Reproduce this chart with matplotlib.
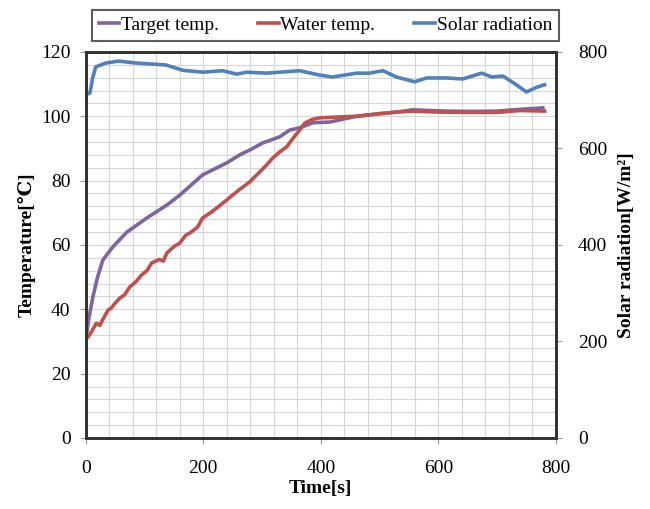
import matplotlib.pyplot as plt
import numpy as np

plt.rcParams['font.family'] = ['Liberation Serif', 'DejaVu Serif']

# Target temperature [C]
time_target = [0, 5, 12, 20, 29, 46, 70, 104, 138, 160, 199, 240, 262, 279, 301,
               330, 347, 364, 387, 415, 461, 500, 529, 557, 614, 660, 700, 727, 778]
target = [30.5, 37, 43.8, 50, 55.3, 59.4, 64, 68.4, 72.4, 75.5, 81.8, 85.5, 88, 89.5, 91.7,
          93.6, 95.7, 96.4, 98, 98.2, 100, 100.8, 101.3, 102, 101.6, 101.5, 101.6, 102, 102.6]

# Water temperature [C]
time_water = [0, 8, 18, 24, 28, 38, 44, 48, 58, 66, 75, 85, 95, 104, 112, 125, 132, 138, 150,
              160, 170, 177, 190, 199, 212, 223, 240, 260, 279, 295, 308, 318, 330, 342,
              352, 364, 373, 385, 398, 432, 461, 500, 529, 557, 600, 650, 700, 740, 781]
water = [30.5, 32.5, 35.7, 35.0, 36.5, 39.8, 40.5, 41.5, 43.5, 44.5, 47, 48.5, 50.7, 52, 54.4,
         55.5, 55.0, 57.5, 59.5, 60.6, 63.0, 63.7, 65.5, 68.4, 70, 71.5, 74, 77, 79.6, 82.5,
         84.9, 87, 88.9, 90.5, 93, 95.7, 97.9, 99, 99.5, 99.8, 100, 100.8, 101.3, 101.6,
         101.3, 101.2, 101.2, 101.8, 101.6]

# Solar radiation [W/m2]
time_solar = [0, 7, 12, 17, 34, 56, 85, 136, 165, 199, 233, 257, 274, 308, 330, 364, 398,
              420, 461, 483, 506, 529, 560, 580, 614, 642, 674, 691, 710, 733, 750, 768, 781]
solar = [711, 715, 748, 769, 777, 781, 777, 773, 762, 758, 761, 754, 758, 756, 758, 761, 752,
         748, 756, 756, 761, 748, 738, 746, 746, 744, 756, 748, 750, 732, 717, 727, 732]

fig = plt.figure(figsize=(6.5, 5.09), dpi=100)
ax = fig.add_axes([0.132, 0.1395, 0.723, 0.7585])
ax2 = ax.twinx()

l1, = ax.plot(time_target, target, color='#8064A2', lw=2.6, label='Target temp.')
l2, = ax.plot(time_water, water, color='#C0504D', lw=2.6, label='Water temp.')
l3, = ax2.plot(time_solar, solar, color='#4F81BD', lw=2.6, label='Solar radiation')

ax.set_xlim(0, 800)
ax.set_ylim(0, 120)
ax2.set_ylim(0, 800)
ax.set_xticks(np.arange(0, 801, 200))
ax.set_xticks(np.arange(0, 801, 40), minor=True)
ax.set_yticks(np.arange(0, 121, 20))
ax.set_yticks(np.arange(0, 121, 4), minor=True)
ax2.set_yticks(np.arange(0, 801, 200))
ax.grid(which='both', color='#d6d6d6', lw=0.8)
ax.set_axisbelow(True)
ax.tick_params(which='minor', length=0)
ax.tick_params(which='major', length=4, color='#999999', labelsize=14)
ax.tick_params(axis='x', pad=12)
ax.tick_params(axis='y', pad=7)
ax2.tick_params(which='major', length=4, color='#999999', labelsize=14, pad=12)

for a in (ax, ax2):
    for s in a.spines.values():
        s.set_linewidth(2)
        s.set_color('#333333')

ax.set_xlabel('Time[s]', fontsize=14, fontweight='bold', labelpad=2)
ax.set_ylabel('Temperature[\u2103]', fontsize=14, fontweight='bold', labelpad=4)
ax2.set_ylabel('Solar radiation[W/m\u00b2]', fontsize=14, fontweight='bold', labelpad=8)

leg = ax.legend(handles=[l1, l2, l3], loc='upper center', bbox_to_anchor=(0.51, 1.109),
                ncol=3, fontsize=14, frameon=True, fancybox=False, handlelength=1.05,
                handletextpad=0.1, columnspacing=2.0, borderpad=0.35, borderaxespad=0)
leg.get_frame().set_edgecolor('#333333')
leg.get_frame().set_linewidth(1.5)

fig.savefig('out.png', dpi=100)
